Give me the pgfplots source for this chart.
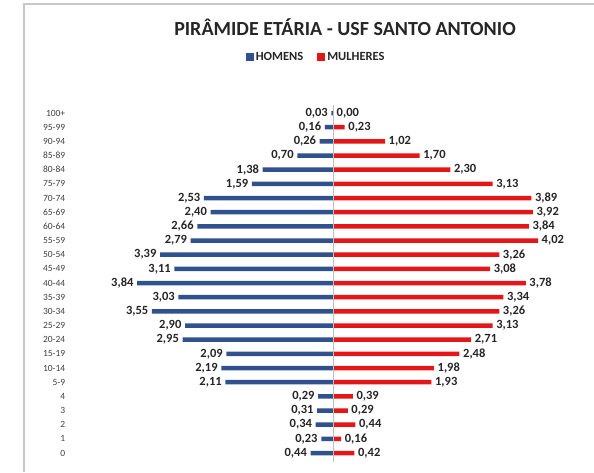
\documentclass[border=0pt]{standalone}
\usepackage{pgfplots}
\pgfplotsset{compat=1.18}
\usepackage{pgfplotstable}
\usepackage{fontspec}
\setmainfont{Carlito}

\definecolor{homem}{RGB}{47,82,143}
\definecolor{mulher}{RGB}{228,22,24}
\definecolor{moldura}{RGB}{200,200,200}

% y = faixa etaria (0 = "0", 24 = "100+"), v = percentual
\pgfplotstableread{
y v
0 0.44
1 0.23
2 0.34
3 0.31
4 0.29
5 2.11
6 2.19
7 2.09
8 2.95
9 2.90
10 3.55
11 3.03
12 3.84
13 3.11
14 3.39
15 2.79
16 2.66
17 2.40
18 2.53
19 1.59
20 1.38
21 0.70
22 0.26
23 0.16
24 0.03
}\homens

\pgfplotstableread{
y v
0 0.42
1 0.16
2 0.44
3 0.29
4 0.39
5 1.93
6 1.98
7 2.48
8 2.71
9 3.13
10 3.26
11 3.34
12 3.78
13 3.08
14 3.26
15 4.02
16 3.84
17 3.92
18 3.89
19 3.13
20 2.30
21 1.70
22 1.02
23 0.23
24 0.00
}\mulheres

\begin{document}
\begin{tikzpicture}
\useasboundingbox (0,0) rectangle (594pt,472pt);
\draw[moldura, line width=1.5pt] (24pt,0pt) -- (24pt,468pt) -- (594pt,468pt);

\node[font=\bfseries\fontsize{20}{24}\selectfont, text=black!85] at (345pt,445pt)
  {PIRÂMIDE ETÁRIA - USF SANTO ANTONIO};

\begin{axis}[
  at={(78pt,10.5pt)}, anchor=south west,
  scale only axis, width=510pt, height=357pt,
  xbar, bar width=4.5pt, bar shift=0pt,
  xmin=-5, xmax=5, ymin=-0.6, ymax=24.6,
  xtick=\empty,
  ytick={0,...,24},
  yticklabels={0,1,2,3,4,5-9,10-14,15-19,20-24,25-29,30-34,35-39,40-44,45-49,50-54,55-59,60-64,65-69,70-74,75-79,80-84,85-89,90-94,95-99,100+},
  y tick label style={font=\fontsize{9.5}{10}\selectfont, text=black!75, anchor=east, xshift=-5pt},
  axis line style={draw=none},
  tick style={draw=none},
  point meta=explicit,
  nodes near coords={\pgfmathprintnumber[fixed, fixed zerofill, precision=2, use comma, assume math mode=true]{\pgfplotspointmeta}},
  nodes near coords style={font=\bfseries\fontsize{12.5}{13}\selectfont, text=black!85, inner sep=3.5pt},
  legend columns=2,
  legend style={at={(0.467,1.133)}, anchor=center, draw=none, fill=none,
    font=\bfseries\fontsize{12.5}{14}\selectfont, text=black!85,
    /tikz/every even column/.append style={column sep=12pt}},
]
\addplot[fill=homem, draw=none, nodes near coords align=left,
  legend image code/.code={\fill[homem] (0pt,-4pt) rectangle (8pt,4pt);}]
  table[x expr=-\thisrow{v}, y=y, meta=v] {\homens};
\addlegendentry{HOMENS}
\addplot[fill=mulher, draw=none, nodes near coords align=right,
  legend image code/.code={\fill[mulher] (0pt,-4pt) rectangle (8pt,4pt);}]
  table[x=v, y=y, meta=v] {\mulheres};
\addlegendentry{MULHERES}
\draw[black!25, line width=0.8pt] (axis cs:0,-0.6) -- (axis cs:0,24.6);
\end{axis}
\end{tikzpicture}
\end{document}
